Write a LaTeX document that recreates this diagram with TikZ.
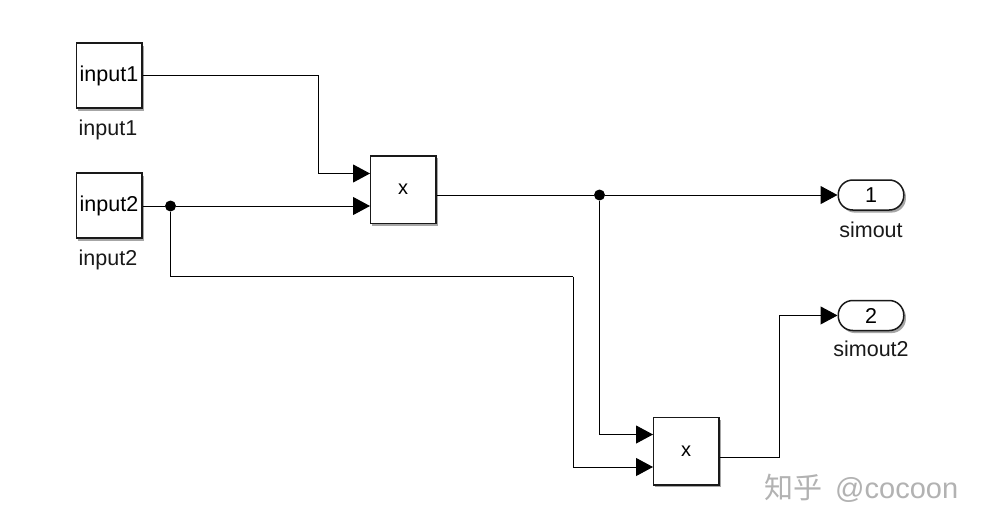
\documentclass[tikz,border=0pt]{standalone}
\usepackage{fontspec}
\setmainfont{Liberation Sans}
\newfontfamily\cjkwm{Noto Sans CJK SC}
\usetikzlibrary{arrows.meta,shadows,calc}
\tikzset{
  softshadow/.style={general shadow={shadow xshift=2.2pt,shadow yshift=-2.6pt,fill=black!35}},
  blockbox/.style={draw=black!90,line width=1.5pt,fill=white,inner sep=0pt,softshadow,font=\fontsize{21.5}{21.5}\selectfont},
  srcbox/.style={blockbox,minimum width=65.5pt,minimum height=65pt},
  prodbox/.style={blockbox,minimum width=65.5pt,minimum height=67.5pt,font=\fontsize{20}{20}\selectfont},
  outport/.style={blockbox,rounded corners=14.5pt,minimum width=65.5pt,minimum height=30pt},
  lbl/.style={font=\fontsize{21.5}{21.5}\selectfont,text=black!90,inner sep=0pt},
  wire/.style={draw=black,line width=1pt},
  flow/.style={wire,-{Triangle[length=17pt,width=18pt]}},
  junction/.style={circle,fill=black,inner sep=0pt,minimum size=11pt},
}
\begin{document}
\begin{tikzpicture}[x=1pt,y=-1pt]
\useasboundingbox[fill=white] (0,0) rectangle (982,527);
\node[srcbox] (in1) at (109,75.5) {\raisebox{-1.5pt}{input1}};
\node[srcbox] (in2) at (109,205.5) {\raisebox{-1.5pt}{input2}};
\node[lbl] (in1l) at (108,130) {input1};
\node[lbl] (in2l) at (108,260) {input2};
\node[prodbox] (p1) at (403,189.5) {x};
\node[prodbox] (p2) at (686,451) {x};
\node[outport] (o1) at (871,195) {1};
\node[outport] (o2) at (871,315.5) {2};
\node[lbl] (o1l) at (871,230) {simout};
\node[lbl] (o2l) at (871,349) {simout2};
\node[junction] (j1) at (170.5,206) {};
\node[junction] (j2) at (599.5,195) {};
\coordinate (p1a) at (370,173.5);
\coordinate (p1b) at (370,206);
\coordinate (p2a) at (653,434.5);
\coordinate (p2b) at (653,467);
\coordinate (r1) at (318.5,75);
\coordinate (r2) at (170.5,276.5);
\coordinate (r3) at (573,276.5);
\coordinate (r4) at (779.5,457);
\draw[flow] (in1.east |- r1) -- (r1) |- (p1a);
\draw[wire] (in2.east |- j1) -- (j1);
\draw[flow] (j1) -- (p1b);
\draw[wire] (j1) -- (r2) -- (r3);
\draw[flow] (r3) |- (p2b);
\draw[wire] (p1.east |- j2) -- (j2);
\draw[flow] (j2) -- (o1.west);
\draw[flow] (j2) |- (p2a);
\draw[flow] (p2.east |- r4) -- (r4) |- (o2.west);
\node[inner sep=0pt,text=black!30,font=\fontsize{29}{29}\selectfont,anchor=west] (wm) at (764,488) {{\cjkwm 知乎}\hspace{13pt}{\fontspec{Liberation Sans}@cocoon}};
\end{tikzpicture}
\end{document}
